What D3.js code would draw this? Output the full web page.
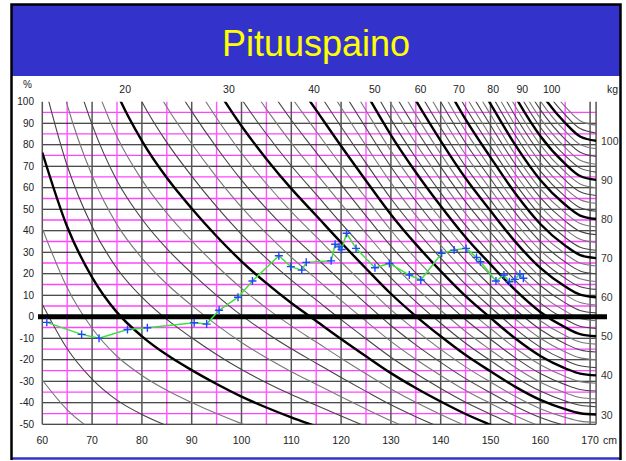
<!DOCTYPE html>
<html>
<head>
<meta charset="utf-8">
<title>Pituuspaino</title>
<script src="https://cdn.jsdelivr.net/npm/d3@7"></script>
<style>
body { margin: 0; background: #fff; }
svg text { font-family: "Liberation Sans", Arial, sans-serif; }
</style>
</head>
<body>
<script>
var refHeights = [60, 65, 70, 75, 80, 85, 90, 95, 100, 105, 110, 115, 120, 125, 130, 135, 140, 145, 150, 155, 160, 165, 168, 171.2];
var refWeights = [5.67, 7.05, 8.45, 9.8, 11.0, 12.15, 13.3, 14.55, 15.9, 17.3, 18.8, 20.4, 22.3, 24.5, 27.1, 29.9, 33.0, 36.5, 40.2, 44.5, 48.9, 52.6, 54.4, 55.0];

// weight isolines (kg)
var thickWeights = [10, 20, 30, 40, 50, 60, 70, 80, 90, 100];
var thinWeights = [4, 6, 8, 12, 14, 16, 18, 22, 24, 26, 28, 32, 34, 36, 38, 42, 44, 46, 48,
    52, 54, 56, 58, 62, 64, 66, 68, 72, 74, 76, 78, 82, 84, 86, 88, 92, 94, 96, 98, 102, 104];

// axis ticks
var pctTicks = [-50, -40, -30, -20, -10, 0, 10, 20, 30, 40, 50, 60, 70, 80, 90, 100];
var cmTicks = [60, 70, 80, 90, 100, 110, 120, 130, 140, 150, 160, 170];

// the child's measurements: height (cm) and weight deviation (%)
var childHeights = [60.9, 67.9, 71.4, 77.1, 81.1, 90.5, 93.0, 95.5, 99.3, 102.2, 107.5, 109.9, 112.1, 113.0,
    118.0, 118.8, 119.6, 120.1, 121.1, 123.0, 126.8, 129.7, 133.7, 136.0, 140.2, 142.7, 145.1, 147.2,
    148.0, 151.1, 152.7, 153.8, 154.9, 155.9, 156.6];
var childPct = [-2.6, -8.2, -10.0, -5.9, -5.1, -2.8, -3.4, 3.0, 9.1, 16.6, 28.4, 23.3, 21.7, 25.3,
    26.0, 33.7, 32.5, 31.3, 38.8, 31.8, 22.8, 24.8, 19.4, 17.1, 29.5, 31.0, 31.8, 27.6,
    25.6, 16.6, 19.4, 16.3, 17.4, 19.9, 17.9];

window.onload = function(){

    var w = 626, h = 461;
    var svg = d3.select("body")
        .append("svg")
        .attr("width", w)
        .attr("height", h);

    //scales
    var x = d3.scaleLinear().domain([60, 170]).range([42.3, 590.1]);
    var y = d3.scaleLinear().domain([-50, 100]).range([424.3, 101.7]);
    var ref = d3.scaleLinear().domain(refHeights).range(refWeights);
    var xEnd = x(171.2);

    //slide frame and title band
    svg.append("rect")
        .attr("x", 12).attr("y", 5)
        .attr("width", 609).attr("height", 71)
        .style("fill", "#3333cc");
    svg.append("text")
        .attr("x", 316).attr("y", 56)
        .attr("text-anchor", "middle")
        .style("font-size", "36px")
        .style("fill", "#ffff00")
        .text("Pituuspaino");
    svg.append("line")
        .attr("x1", 12).attr("x2", 621).attr("y1", 458.5).attr("y2", 458.5)
        .style("stroke", "#3333cc").style("stroke-width", 2.5);
    svg.append("path")
        .attr("d", "M11.5,460V4.5H620.5V460")
        .style("fill", "none").style("stroke", "#000").style("stroke-width", 2.5);

    var grid = svg.append("g").attr("class", "grid");

    //magenta half lines
    grid.selectAll(".hmag")
        .data(pctTicks.slice(0, -1))
        .enter().append("line")
        .attr("x1", x(60)).attr("x2", xEnd)
        .attr("y1", function(d){ return y(d + 5); })
        .attr("y2", function(d){ return y(d + 5); })
        .style("stroke", "#ff44ff").style("stroke-width", 1.3);
    grid.selectAll(".vmag")
        .data(cmTicks.slice(0, -1))
        .enter().append("line")
        .attr("x1", function(d){ return x(d + 5); })
        .attr("x2", function(d){ return x(d + 5); })
        .attr("y1", y(100)).attr("y2", y(-50))
        .style("stroke", "#ff55ff").style("stroke-width", 1.4);

    //black percent lines (the 100 line is not drawn)
    grid.selectAll(".hline")
        .data(pctTicks.filter(function(d){ return d != 100 && d != 0; }))
        .enter().append("line")
        .attr("x1", x(60)).attr("x2", xEnd)
        .attr("y1", function(d){ return y(d); })
        .attr("y2", function(d){ return y(d); })
        .style("stroke", "#111").style("stroke-width", 1.1);

    //grey height lines
    grid.selectAll(".vline")
        .data(cmTicks.concat([171.2]))
        .enter().append("line")
        .attr("x1", function(d){ return x(d); })
        .attr("x2", function(d){ return x(d); })
        .attr("y1", y(100)).attr("y2", y(-50))
        .style("stroke", "#555").style("stroke-width", 1.5);

    //clip for the weight curves
    svg.append("clipPath").attr("id", "plotclip")
        .append("rect")
        .attr("x", x(60)).attr("y", y(100))
        .attr("width", xEnd - x(60)).attr("height", y(-50) - y(100));

    var curveLine = d3.line()
        .x(function(d){ return x(d[0]); })
        .y(function(d){ return y(d[1]); })
        .curve(d3.curveMonotoneX);

    //deviation of a weight from the reference at each height
    function isoline(kg){
        return refHeights.map(function(hh, i){
            return [hh, (kg / refWeights[i] - 1) * 100];
        });
    }

    var curves = svg.append("g").attr("clip-path", "url(#plotclip)");
    curves.selectAll(".thin")
        .data(thinWeights)
        .enter().append("path")
        .attr("class", "thin")
        .attr("d", function(d){ return curveLine(isoline(d)); })
        .style("fill", "none")
        .style("stroke", function(d, i){ return i % 2 ? "#444" : "#777"; })
        .style("stroke-width", 1.1);
    curves.selectAll(".thick")
        .data(thickWeights)
        .enter().append("path")
        .attr("class", "thick")
        .attr("d", function(d){ return curveLine(isoline(d)); })
        .style("fill", "none")
        .style("stroke", "#000")
        .style("stroke-width", 2.4);

    //heavy zero line
    svg.append("line")
        .attr("x1", 38).attr("x2", 607)
        .attr("y1", y(0)).attr("y2", y(0))
        .style("stroke", "#000").style("stroke-width", 5);

    //left axis labels
    svg.selectAll(".ylab")
        .data(pctTicks)
        .enter().append("text")
        .attr("x", 34)
        .attr("y", function(d){ return y(d) + 3.5; })
        .attr("text-anchor", "end")
        .style("font-size", "10px").style("fill", "#222")
        .text(function(d){ return d; });
    svg.append("text").attr("x", 23).attr("y", 88)
        .style("font-size", "10px").style("fill", "#222").text("%");

    //bottom axis labels
    svg.selectAll(".xlab")
        .data(cmTicks)
        .enter().append("text")
        .attr("x", function(d){ return x(d); })
        .attr("y", 444)
        .attr("text-anchor", "middle")
        .style("font-size", "10.5px").style("fill", "#222")
        .text(function(d){ return d; });
    svg.append("text").attr("x", 603).attr("y", 444)
        .style("font-size", "10.5px").style("fill", "#222").text("cm");

    //kg labels at top, where the thick curves leave the 100 % edge
    svg.selectAll(".toplab")
        .data(thickWeights.filter(function(d){ return d / 2 >= refWeights[0]; }))
        .enter().append("text")
        .attr("x", function(d){ return x(ref.invert(d / 2)) + 4; })
        .attr("y", 93)
        .attr("text-anchor", "middle")
        .style("font-size", "10.5px").style("fill", "#222")
        .text(function(d){ return d; });
    svg.append("text").attr("x", 607).attr("y", 93)
        .style("font-size", "10.5px").style("fill", "#222").text("kg");

    //kg labels at right, where the thick curves end
    var endKg = refWeights[refWeights.length - 1];
    svg.append("clipPath").attr("id", "rightclip")
        .append("rect").attr("x", 596).attr("y", 80).attr("width", 23).attr("height", 370);
    svg.append("g").attr("clip-path", "url(#rightclip)")
        .selectAll(".rightlab")
        .data(thickWeights.filter(function(d){ return (d / endKg - 1) * 100 >= -50; }))
        .enter().append("text")
        .attr("x", 601)
        .attr("y", function(d){ return y((d / endKg - 1) * 100) + 4; })
        .style("font-size", "10.5px").style("fill", "#333")
        .text(function(d){ return d; });

    //child's growth line
    var childData = childHeights.map(function(d, i){ return [d, childPct[i]]; });
    svg.append("path")
        .datum(childData)
        .attr("d", d3.line()
            .x(function(d){ return x(d[0]); })
            .y(function(d){ return y(d[1]); }))
        .style("fill", "none")
        .style("stroke", "#3fe03f")
        .style("stroke-width", 1.5);
    svg.selectAll(".mark")
        .data(childData)
        .enter().append("path")
        .attr("transform", function(d){ return "translate(" + x(d[0]) + "," + y(d[1]) + ")"; })
        .attr("d", "M-4,0H4M0,-4V4")
        .style("stroke", "#2244ff")
        .style("stroke-width", 1.4);
};
</script>
</body>
</html>
